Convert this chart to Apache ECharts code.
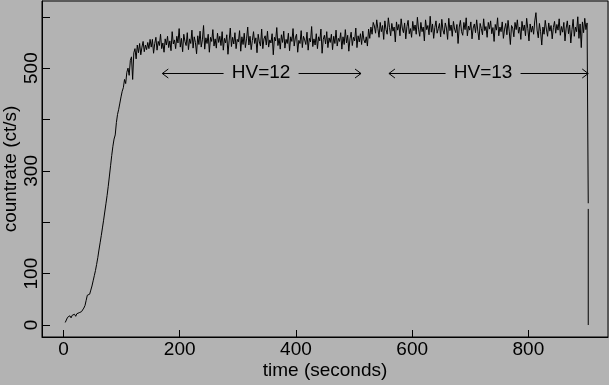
<!DOCTYPE html>
<html>
<head>
<meta charset="utf-8">
<script src="https://cdn.jsdelivr.net/npm/echarts@6/dist/echarts.min.js"></script>
<style>
  html, body { margin: 0; padding: 0; background: #b3b3b3; }
  #chart { width: 609px; height: 385px; }
</style>
</head>
<body>
<div id="chart"></div>
<script>
// sampling: first bin at 3 s, one bin every 2 s
const startTime = 3;
const binWidth = 2;

// ramp-up, t = 3 .. 149 s
const riseRate = [
  5, 8, 15, 12, 18, 14, 19, 16, 21, 17,
  22, 19, 24, 21, 26, 28, 33, 38, 48, 58,
  55, 60, 68, 76, 86, 96, 106, 118, 131, 146,
  160, 174, 189, 204, 220, 236, 252, 270, 290, 310,
  330, 348, 362, 370, 394, 410, 420, 432, 444, 455,
  462, 478, 470, 492, 500, 486, 515, 522, 478, 530,
  538, 518, 545, 530, 548, 526, 541, 552, 532, 545,
  536, 550, 538, 556
];

// HV=12 plateau, t = 151 .. 533 s
const hv12Rate = [
  541, 556, 529, 548, 560, 535, 552, 544, 566, 538, 549, 531, 557, 545, 562, 540, 553, 534, 571, 547,
  555, 538, 562, 549, 577, 541, 558, 532, 566, 552, 544, 569, 536, 557, 548, 574, 539, 561, 550, 528,
  563, 546, 572, 541, 555, 583, 537, 559, 548, 566, 531, 560, 552, 575, 543, 557, 539, 568, 550, 562,
  544, 571, 535, 558, 549, 565, 527, 553, 578, 542, 560, 547, 569, 538, 556, 551, 573, 533, 561, 546,
  568, 540, 557, 580, 545, 562, 536, 554, 571, 548, 559, 530, 566, 551, 543, 576, 538, 557, 563, 545,
  572, 541, 555, 549, 567, 526, 560, 553, 579, 544, 558, 537, 565, 550, 572, 539, 556, 548, 568, 534,
  561, 552, 577, 543, 559, 566, 531, 554, 548, 573, 540, 562, 555, 546, 570, 535, 558, 551, 581, 542,
  557, 545, 567, 538, 561, 553, 576, 529, 556, 564, 547, 571, 540, 559, 550, 566, 536, 562, 548, 574,
  543, 558, 552, 569, 537, 561, 546, 575, 549, 564, 533, 557, 570, 544, 560, 553, 578, 540, 563, 551,
  567, 546, 572, 555, 549, 561, 543, 576, 558, 580, 566, 589
];

// HV=13 plateau, t = 535 .. 901 s
const hv13Rate = [
  582, 568, 594, 577, 560, 589, 571, 583, 556, 592, 575, 566, 598, 579, 563, 587, 572, 580, 551, 590,
  574, 585, 563, 596, 578, 569, 588, 557, 581, 593, 567, 577, 560, 591, 573, 584, 566, 599, 576, 562,
  589, 571, 580, 553, 594, 575, 583, 565, 601, 570, 586, 558, 579, 592, 568, 577, 587, 561, 595, 574,
  566, 588, 578, 556, 597, 573, 584, 562, 591, 576, 569, 585, 548, 580, 593, 571, 564, 589, 575, 598,
  563, 582, 574, 590, 557, 578, 586, 569, 594, 572, 555, 587, 577, 565, 596, 573, 581, 560, 589, 576,
  592, 567, 579, 552, 585, 574, 598, 563, 580, 571, 590, 558, 576, 587, 565, 593, 572, 546, 583, 578,
  561, 589, 575, 594, 568, 580, 556, 591, 573, 584, 563, 597, 577, 553, 586, 570, 582, 566, 592, 608,
  574, 559, 587, 571, 545, 580, 566, 593, 576, 562, 588, 572, 583, 557, 579, 591, 568, 585, 574, 596,
  564, 581, 570, 589, 553, 578, 592, 567, 584, 549, 575, 595, 562, 580, 571, 600, 558, 586, 540, 590,
  569, 597, 575, 588
];

// switch-off at the end of the run
const tailTime = [903, 903, 903, 903];
const tailRate = [237, null, 226, 0];

const xTicks = [0, 200, 400, 600, 800];
const yTicks = [0, 100, 200, 300, 400, 500, 600];
const yTickLabels = [0, 100, 300, 500];

// HV annotations
const hvLabels = ['HV=12', 'HV=13'];
const hvStart = [170, 560];
const hvEnd = [512, 903];
const hvMid = [340, 722];
const hvLevel = 490;

const rates = riseRate.concat(hv12Rate, hv13Rate);
const lineData = rates.map((v, i) => [startTime + i * binWidth, v]);
tailTime.forEach((t, i) => lineData.push([t, tailRate[i]]));

const FONT = 'Liberation Sans, Arial, Helvetica, sans-serif';

const chart = echarts.init(document.getElementById('chart'), null, { renderer: 'canvas' });
chart.setOption({
  backgroundColor: '#b3b3b3',
  animation: false,
  grid: {
    left: 42, right: 1, top: 1, bottom: 48,
    outerBoundsMode: 'none',
    containLabel: false,
    show: true, borderColor: '#000', borderWidth: 1, backgroundColor: 'transparent'
  },
  xAxis: {
    type: 'value',
    min: -37, max: 937,
    name: 'time (seconds)',
    nameLocation: 'middle',
    nameGap: 24,
    nameMoveOverlap: false,
    nameTextStyle: { color: '#000', fontSize: 19, fontFamily: FONT },
    axisLine: { show: true, onZero: false, lineStyle: { color: '#000', width: 1 } },
    axisTick: { show: true, inside: true, length: 7, customValues: xTicks, lineStyle: { color: '#000' } },
    axisLabel: { customValues: xTicks, color: '#000', fontSize: 19, fontFamily: FONT, margin: 3 },
    splitLine: { show: false }
  },
  yAxis: {
    type: 'value',
    min: -23.3, max: 630.7,
    name: 'countrate (ct/s)',
    nameLocation: 'middle',
    nameGap: 22,
    nameMoveOverlap: false,
    nameRotate: 90,
    nameTextStyle: { color: '#000', fontSize: 19, fontFamily: FONT },
    axisLine: { show: true, onZero: false, lineStyle: { color: '#000', width: 1 } },
    axisTick: { show: true, inside: true, length: 8, customValues: yTicks, lineStyle: { color: '#000' } },
    axisLabel: { customValues: yTickLabels, rotate: 90, color: '#000', fontSize: 19, fontFamily: FONT, margin: 1 },
    splitLine: { show: false }
  },
  series: [
    {
      type: 'line',
      data: lineData,
      showSymbol: false,
      symbol: 'none',
      connectNulls: false,
      lineStyle: { color: '#000', width: 1 },
      z: 3
    },
    {
      type: 'custom',
      data: hvStart.map((s, i) => [s, hvEnd[i], hvMid[i], hvLevel]),
      renderItem: function (params, api) {
        const a = api.coord([api.value(0), api.value(3)]);
        const b = api.coord([api.value(1), api.value(3)]);
        const m = api.coord([api.value(2), api.value(3)]);
        const y = Math.round(a[1]) + 0.5;
        const gap = 37.5;
        const ls = { stroke: '#000', lineWidth: 1, fill: null };
        return {
          type: 'group',
          children: [
            { type: 'line', shape: { x1: a[0], y1: y, x2: m[0] - gap, y2: y }, style: ls },
            { type: 'line', shape: { x1: m[0] + gap, y1: y, x2: b[0], y2: y }, style: ls },
            { type: 'polyline', shape: { points: [[a[0] + 6, y - 4.5], [a[0], y], [a[0] + 6, y + 4.5]] }, style: ls },
            { type: 'polyline', shape: { points: [[b[0] - 6, y - 4.5], [b[0], y], [b[0] - 6, y + 4.5]] }, style: ls },
            {
              type: 'text',
              style: {
                text: hvLabels[params.dataIndex], x: m[0], y: y - 0.5,
                align: 'center', verticalAlign: 'middle',
                font: '19px ' + FONT, fill: '#000'
              }
            }
          ]
        };
      },
      z: 4
    }
  ]
});
</script>
</body>
</html>
